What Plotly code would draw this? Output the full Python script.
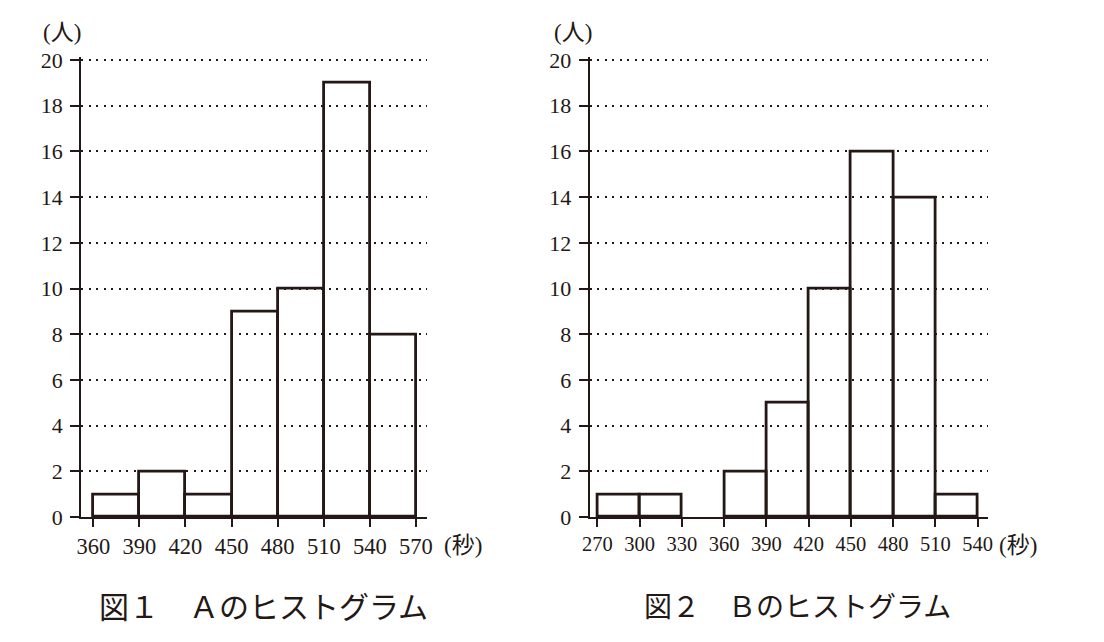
import plotly.graph_objects as go

# ---- data ----
bins_a = [360, 390, 420, 450, 480, 510, 540]
counts_a = [1, 2, 1, 9, 10, 19, 8]
bins_b = [270, 300, 330, 360, 390, 420, 450, 480, 510]
counts_b = [1, 1, 0, 2, 5, 10, 16, 14, 1]
bin_width = 30
ticks_a = [360, 390, 420, 450, 480, 510, 540, 570]
ticks_b = [270, 300, 330, 360, 390, 420, 450, 480, 510, 540]
y_ticks = [0, 2, 4, 6, 8, 10, 12, 14, 16, 18, 20]
title_a = "図１　Ａのヒストグラム"
title_b = "図２　Ｂのヒストグラム"
unit_y = "(人)"
unit_x = "(秒)"

INK = "#231815"
W, H = 1104, 642
OFF = 8  # page body margin
SERIF = "Liberation Serif, Noto Sans CJK JP, serif"
CJK = "Noto Sans CJK JP, sans-serif"


def px_x(p):
    return (p - OFF) / W


def px_y(p):
    return 1 - (p - OFF) / H


def bars(bins, counts, xa, ya):
    xs = [b + bin_width / 2 for b, c in zip(bins, counts) if c > 0]
    ys = [c for c in counts if c > 0]
    return go.Bar(
        x=xs, y=ys, width=bin_width, xaxis=xa, yaxis=ya,
        marker=dict(color="rgba(0,0,0,0)", line=dict(color=INK, width=2.8)),
        cliponaxis=False, showlegend=False, hoverinfo="skip",
    )


fig = go.Figure()
fig.add_trace(bars(bins_a, counts_a, "x", "y"))
fig.add_trace(bars(bins_b, counts_b, "x2", "y2"))

Y_TOP = 20.15
ydom = [px_y(517), px_y(517 - 457 / 20 * Y_TOP)]

common_x = dict(
    showgrid=False, zeroline=False, showline=True, linecolor=INK, linewidth=1.5,
    ticks="outside", ticklen=8, tickwidth=1.5, tickcolor=INK,
    ticklabelstandoff=0, automargin=False,
)
common_y = dict(
    range=[0, Y_TOP], domain=ydom, tickvals=y_ticks,
    showgrid=True, gridcolor=INK, gridwidth=2, griddash="2px,5.5px",
    zeroline=False, showline=True, linecolor=INK, linewidth=1.5,
    ticks="outside", ticklen=9, tickwidth=1.5, tickcolor=INK,
    ticklabelstandoff=3, automargin=False,
    tickfont=dict(family=SERIF, size=22, color=INK),
)

fig.update_layout(
    width=W, height=H, margin=dict(l=0, r=0, t=0, b=0, autoexpand=False),
    paper_bgcolor="white", plot_bgcolor="white",
    bargap=0,
    xaxis=dict(domain=[px_x(81), px_x(427)], range=[352, 577.2], tickvals=ticks_a,
               anchor="y", tickfont=dict(family=SERIF, size=22.5, color=INK), **common_x),
    xaxis2=dict(domain=[px_x(589.5), px_x(988)], range=[264.46, 547.3], tickvals=ticks_b,
                anchor="y2", tickfont=dict(family=SERIF, size=20.5, color=INK), **common_x),
    yaxis=dict(anchor="x", **common_y),
    yaxis2=dict(anchor="x2", **common_y),
)

annots = [
    (62, 33, unit_y, SERIF, 23),
    (573, 33, unit_y, SERIF, 23),
    (463, 545, unit_x, SERIF, 23),
    (1018, 545, unit_x, SERIF, 23),
    (263, 605, title_a, CJK, 30),
    (797, 605, title_b, CJK, 28),
]
for x, y, t, fam, sz in annots:
    fig.add_annotation(x=px_x(x), y=px_y(y), xref="paper", yref="paper", text=t,
                       showarrow=False, xanchor="center", yanchor="middle",
                       font=dict(family=fam, size=sz, color=INK))

fig.write_html("out.html")
